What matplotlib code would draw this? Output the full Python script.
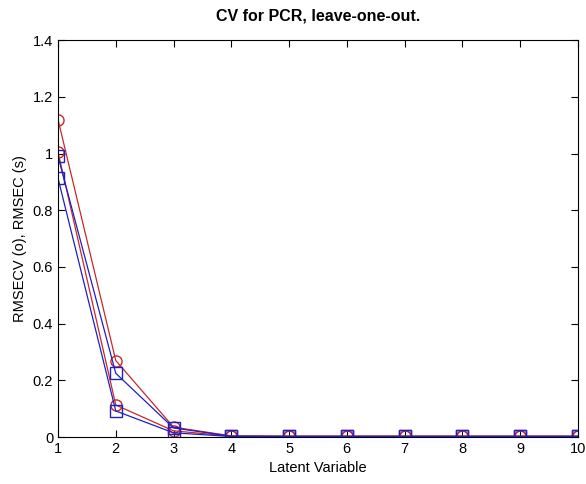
import matplotlib
matplotlib.use("Agg")
import matplotlib.pyplot as plt

plt.rcParams['font.family'] = ['Liberation Sans', 'DejaVu Sans']

lv = [1, 2, 3, 4, 5, 6, 7, 8, 9, 10]

# RMSECV (circles, red)
cv_a = [1.12, 0.27, 0.035, 0.004, 0.003, 0.003, 0.003, 0.003, 0.003, 0.003]
cv_b = [1.005, 0.113, 0.022, 0.003, 0.003, 0.003, 0.003, 0.003, 0.003, 0.003]
# RMSEC (squares, blue)
c_a = [0.99, 0.225, 0.032, 0.003, 0.002, 0.002, 0.002, 0.002, 0.002, 0.002]
c_b = [0.913, 0.092, 0.015, 0.002, 0.002, 0.002, 0.002, 0.002, 0.002, 0.002]

fig = plt.figure(figsize=(5.86, 4.84), dpi=100)
ax = fig.add_axes([0.099, 0.097, 0.887, 0.82])

ax.plot(lv, cv_a, '-o', color='#c82828', mfc='none', ms=8, lw=0.9)
ax.plot(lv, cv_b, '-o', color='#c82828', mfc='none', ms=8, lw=0.9)
ax.plot(lv, c_a, '-s', color='#2020c0', mfc='none', ms=8, lw=0.9)
ax.plot(lv, c_b, '-s', color='#2020c0', mfc='none', ms=8, lw=0.9)

ax.set_xlim(1, 10)
ax.set_ylim(0, 1.4)
ax.set_xticks(lv)
ax.set_yticks([0, 0.2, 0.4, 0.6, 0.8, 1.0, 1.2, 1.4])
ax.set_yticklabels(['0', '0.2', '0.4', '0.6', '0.8', '1', '1.2', '1.4'])
ax.tick_params(direction='in', top=True, right=True, labelsize=10.5, length=5)

ax.set_title('CV for PCR, leave-one-out.', fontsize=11.5, fontweight='bold', pad=14)
ax.set_xlabel('Latent Variable', fontsize=10.5)
ax.set_ylabel('RMSECV (o), RMSEC (s)', fontsize=10.5)

fig.savefig('out.png', dpi=100)
